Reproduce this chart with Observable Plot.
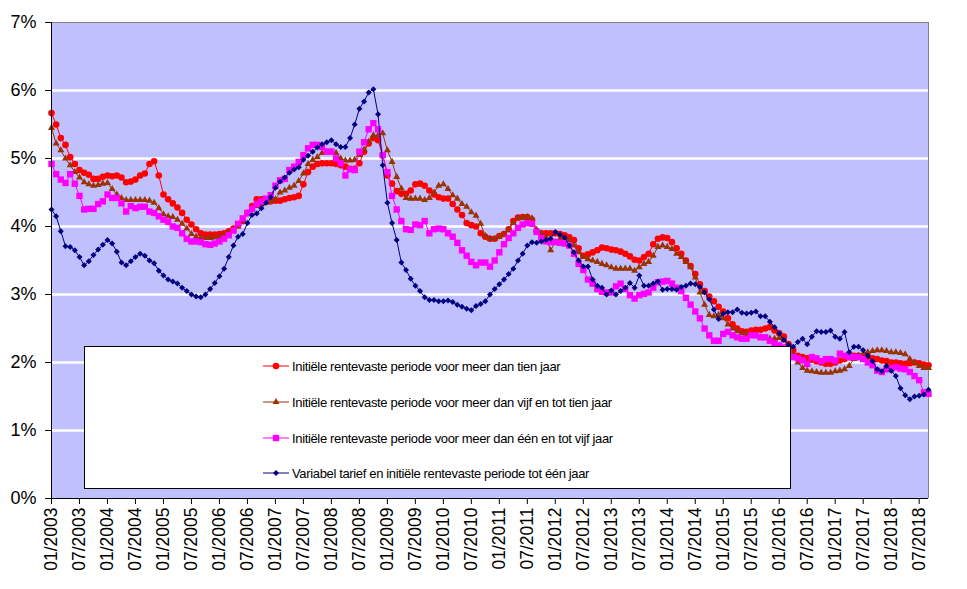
<!DOCTYPE html>
<html><head><meta charset="utf-8">
<script src="https://cdn.jsdelivr.net/npm/d3@7"></script>
<script src="https://cdn.jsdelivr.net/npm/@observablehq/plot@0.6"></script>
<style>
body{margin:0;background:#fff;font-family:Arial,"Liberation Sans",sans-serif;}
#wrap{position:relative;width:967px;height:589px;}
#legend{position:absolute;left:84px;top:346px;width:707px;height:143px;background:#fff;border:1px solid #000;box-sizing:border-box;}
.lg{position:absolute;left:178px;height:16px;display:flex;align-items:center;font-size:13px;letter-spacing:-0.35px;color:#000;white-space:nowrap;}
.lg svg{margin-right:3px;}
</style></head><body><div id="wrap"><div id="legend"></div></div>
<script>
const tickLabels = ["01/2003","07/2003","01/2004","07/2004","01/2005","07/2005","01/2006","07/2006","01/2007","07/2007","01/2008","07/2008","01/2009","07/2009","01/2010","07/2010","01/2011","07/2011","01/2012","07/2012","01/2013","07/2013","01/2014","07/2014","01/2015","07/2015","01/2016","07/2016","01/2017","07/2017","01/2018","07/2018"];

const seriesNames = [
  "Initiële rentevaste periode voor meer dan tien jaar",
  "Initiële rentevaste periode voor meer dan vijf en tot tien jaar",
  "Initiële rentevaste periode voor meer dan één en tot vijf jaar",
  "Variabel tarief en initiële rentevaste periode tot één jaar"
];

// monthly values in %, 01/2003 .. 09/2018
const tienJaar = [
5.67,5.50,5.30,5.20,5.02,4.92,4.83,4.79,4.76,4.70,4.70,4.73,
4.75,4.74,4.75,4.72,4.65,4.66,4.69,4.75,4.78,4.92,4.96,4.75,
4.47,4.40,4.34,4.28,4.20,4.10,4.03,3.96,3.90,3.88,3.88,3.88,
3.89,3.90,3.93,3.97,4.02,4.08,4.20,4.30,4.40,4.40,4.38,4.37,
4.38,4.38,4.40,4.42,4.43,4.45,4.62,4.80,4.88,4.92,4.93,4.93,
4.93,4.92,4.90,4.88,4.85,4.85,4.93,5.10,5.22,5.30,5.27,5.05,
4.75,4.63,4.52,4.48,4.48,4.53,4.62,4.63,4.60,4.53,4.47,4.43,
4.41,4.41,4.33,4.25,4.17,4.05,4.02,4.00,3.90,3.85,3.82,3.82,
3.86,3.89,3.96,4.08,4.13,4.14,4.14,4.10,3.93,3.90,3.90,3.90,
3.90,3.89,3.87,3.84,3.80,3.68,3.57,3.59,3.62,3.65,3.69,3.68,
3.66,3.65,3.63,3.60,3.56,3.51,3.50,3.55,3.60,3.74,3.82,3.84,
3.83,3.77,3.68,3.60,3.50,3.42,3.30,3.15,3.05,2.97,2.90,2.82,
2.75,2.65,2.56,2.50,2.46,2.45,2.47,2.48,2.48,2.50,2.52,2.47,
2.43,2.38,2.27,2.18,2.10,2.08,2.06,2.04,2.02,2.00,1.98,1.98,
2.00,2.03,2.05,2.08,2.10,2.10,2.10,2.08,2.06,2.05,2.03,2.02,
2.00,2.00,1.99,1.98,1.99,2.00,1.99,1.97,1.96];

const vijfTotTien = [
5.45,5.22,5.12,5.00,4.90,4.80,4.72,4.65,4.62,4.60,4.61,4.63,
4.64,4.55,4.47,4.42,4.39,4.39,4.39,4.39,4.39,4.38,4.35,4.27,
4.18,4.15,4.14,4.10,4.04,3.97,3.89,3.85,3.83,3.83,3.83,3.84,
3.85,3.87,3.90,3.95,4.00,4.08,4.18,4.25,4.30,4.33,4.35,4.37,
4.40,4.50,4.53,4.57,4.60,4.67,4.78,4.92,4.98,5.02,5.08,5.10,
5.10,5.08,5.00,4.97,4.97,4.98,5.05,5.13,5.25,5.34,5.34,5.37,
5.12,4.95,4.73,4.56,4.42,4.41,4.41,4.41,4.39,4.42,4.50,4.60,
4.62,4.55,4.46,4.41,4.33,4.29,4.21,4.16,4.04,3.86,3.82,3.82,
3.85,3.88,3.95,4.05,4.12,4.13,4.14,4.12,3.95,3.90,3.85,3.65,
3.77,3.82,3.83,3.80,3.72,3.62,3.55,3.52,3.50,3.48,3.45,3.43,
3.40,3.38,3.38,3.38,3.38,3.35,3.40,3.45,3.48,3.57,3.70,3.72,
3.70,3.67,3.60,3.55,3.48,3.40,3.25,3.03,2.85,2.70,2.68,2.70,
2.65,2.56,2.50,2.46,2.43,2.42,2.40,2.40,2.37,2.36,2.35,2.35,
2.36,2.33,2.25,2.12,2.00,1.92,1.88,1.87,1.86,1.85,1.85,1.85,
1.87,1.88,1.90,1.95,2.05,2.10,2.12,2.15,2.17,2.18,2.18,2.17,
2.15,2.15,2.14,2.12,2.05,2.00,1.95,1.92,1.92];

const eenTotVijf = [
4.92,4.77,4.69,4.64,4.77,4.63,4.45,4.25,4.26,4.26,4.33,4.37,
4.47,4.42,4.42,4.34,4.22,4.30,4.27,4.29,4.29,4.22,4.20,4.15,
4.10,4.07,4.00,3.98,3.90,3.82,3.78,3.78,3.77,3.74,3.73,3.75,
3.78,3.82,3.87,3.94,4.04,4.12,4.20,4.26,4.33,4.37,4.41,4.46,
4.60,4.68,4.70,4.83,4.88,4.95,5.05,5.15,5.20,5.20,5.17,5.10,
5.10,5.00,4.93,4.75,4.84,4.83,5.10,5.24,5.43,5.52,5.43,5.05,
4.80,4.45,4.25,4.08,3.96,3.95,4.03,4.02,4.08,3.90,3.96,3.97,
3.96,3.90,3.85,3.76,3.65,3.57,3.48,3.43,3.47,3.47,3.41,3.50,
3.62,3.74,3.83,3.90,3.98,4.03,4.05,4.04,3.92,3.83,3.78,3.77,
3.77,3.76,3.75,3.72,3.60,3.45,3.36,3.22,3.16,3.08,3.04,3.03,
3.03,3.12,3.16,3.08,2.99,2.94,2.99,3.01,3.03,3.10,3.18,3.19,
3.20,3.16,3.10,3.05,2.95,2.85,2.75,2.65,2.50,2.40,2.32,2.32,
2.42,2.45,2.40,2.37,2.35,2.35,2.40,2.40,2.37,2.37,2.32,2.28,
2.25,2.22,2.15,2.08,2.06,2.03,1.98,2.08,2.06,2.02,2.05,2.05,
2.03,2.13,2.10,2.08,2.08,2.08,2.05,2.00,1.96,1.88,1.86,1.90,
1.91,1.93,1.91,1.90,1.86,1.80,1.74,1.56,1.54];

const variabel = [
4.25,4.15,3.93,3.71,3.70,3.65,3.55,3.43,3.49,3.58,3.66,3.73,
3.80,3.75,3.63,3.47,3.43,3.49,3.55,3.60,3.57,3.50,3.46,3.35,
3.28,3.22,3.19,3.16,3.10,3.05,3.00,2.97,2.96,3.00,3.08,3.17,
3.27,3.38,3.55,3.72,3.85,3.89,4.05,4.17,4.19,4.27,4.35,4.43,
4.57,4.66,4.72,4.79,4.84,4.87,4.98,5.04,5.10,5.16,5.21,5.24,
5.27,5.21,5.17,5.17,5.30,5.50,5.73,5.84,5.97,6.02,5.65,4.90,
4.35,4.05,3.80,3.47,3.36,3.23,3.13,3.05,2.96,2.92,2.92,2.90,
2.90,2.91,2.89,2.85,2.82,2.79,2.77,2.83,2.86,2.90,3.00,3.08,
3.15,3.22,3.30,3.38,3.50,3.60,3.72,3.77,3.76,3.78,3.80,3.82,
3.92,3.88,3.84,3.72,3.62,3.50,3.41,3.41,3.22,3.13,3.10,3.00,
3.06,3.00,3.05,3.10,3.17,3.10,3.28,3.13,3.13,3.16,3.19,3.07,
3.08,3.08,3.07,3.11,3.13,3.16,3.15,3.11,3.03,2.93,2.78,2.64,
2.72,2.74,2.74,2.78,2.73,2.72,2.73,2.75,2.68,2.68,2.60,2.52,
2.43,2.33,2.26,2.23,2.30,2.35,2.27,2.38,2.46,2.45,2.45,2.47,
2.38,2.35,2.45,2.15,2.23,2.23,2.18,2.10,2.02,1.90,1.87,1.95,
1.88,1.80,1.62,1.52,1.46,1.50,1.51,1.53,1.60];

const yTicks = [0,1,2,3,4,5,6,7];

const series = [
  {name: seriesNames[0], values: tienJaar,    color: "#FF0000", symbol: "circle",   r: 3.3},
  {name: seriesNames[1], values: vijfTotTien, color: "#993300", symbol: "triangle", r: 2.6},
  {name: seriesNames[2], values: eenTotVijf,  color: "#FF00FF", symbol: "square",   r: 3.6},
  {name: seriesNames[3], values: variabel,    color: "#000080", symbol: "diamond2", r: 2.7}
];
series.forEach(s => s.data = s.values.map((v, i) => ({i, v})));
const n = tienJaar.length;

const marks = [
  Plot.rect([0], {x1: 0, x2: n - 1, y1: 0, y2: 7, fill: "#C0C0FF"}),
  Plot.ruleY(yTicks.filter(d => d > 0 && d < 7), {stroke: "#fff", strokeWidth: 2.5}),
  Plot.ruleY([7], {stroke: "#808080", strokeWidth: 1}),
  Plot.ruleX([n - 1], {stroke: "#808080", strokeWidth: 1})
];
for (const s of series) {
  marks.push(Plot.line(s.data, {x: "i", y: "v", stroke: s.color, strokeWidth: 1}));
  marks.push(Plot.dot(s.data, {x: "i", y: "v", symbol: s.symbol, fill: s.color, stroke: "none", r: s.r}));
}
marks.push(
  Plot.ruleX([0], {stroke: "#000", strokeWidth: 1}),
  Plot.ruleY([0], {stroke: "#000", strokeWidth: 1}),
  Plot.axisY({ticks: yTicks, tickFormat: d => d + "%", tickSize: 6, tickPadding: 9, fontSize: 18, label: null, stroke: "#000"}),
  Plot.axisX({ticks: tickLabels.map((d, k) => k * 6), tickFormat: i => tickLabels[i / 6], tickRotate: -90, tickSize: 6, tickPadding: 3, fontSize: 17.5, label: null})
);

const chart = Plot.plot({
  width: 967, height: 589,
  marginLeft: 51, marginRight: 39, marginTop: 22, marginBottom: 91,
  x: {domain: [0, n - 1]},
  y: {domain: [0, 7]},
  style: {fontFamily: "Arial, 'Liberation Sans', sans-serif", color: "#000", background: "#fff"},
  marks
});
document.getElementById("wrap").prepend(chart);

// legend (Excel-style box inside the plot area)
const lg = d3.select("#legend");
const rowsY = [11, 47, 83, 118];
series.forEach((s, k) => {
  const row = lg.append("div").attr("class", "lg").style("top", rowsY[k] + "px");
  const svg = row.append("svg").attr("width", 26).attr("height", 16);
  svg.append("line").attr("x1", 0).attr("x2", 26).attr("y1", 8).attr("y2", 8).attr("stroke", s.color).attr("stroke-width", 1);
  const sym = {circle: d3.symbolCircle, triangle: d3.symbolTriangle, square: d3.symbolSquare, diamond2: d3.symbolDiamond2}[s.symbol];
  svg.append("path").attr("transform", "translate(13,8)").attr("d", d3.symbol(sym, s.r * s.r * Math.PI)()).attr("fill", s.color);
  row.append("span").text(s.name);
});
</script>
</body></html>
